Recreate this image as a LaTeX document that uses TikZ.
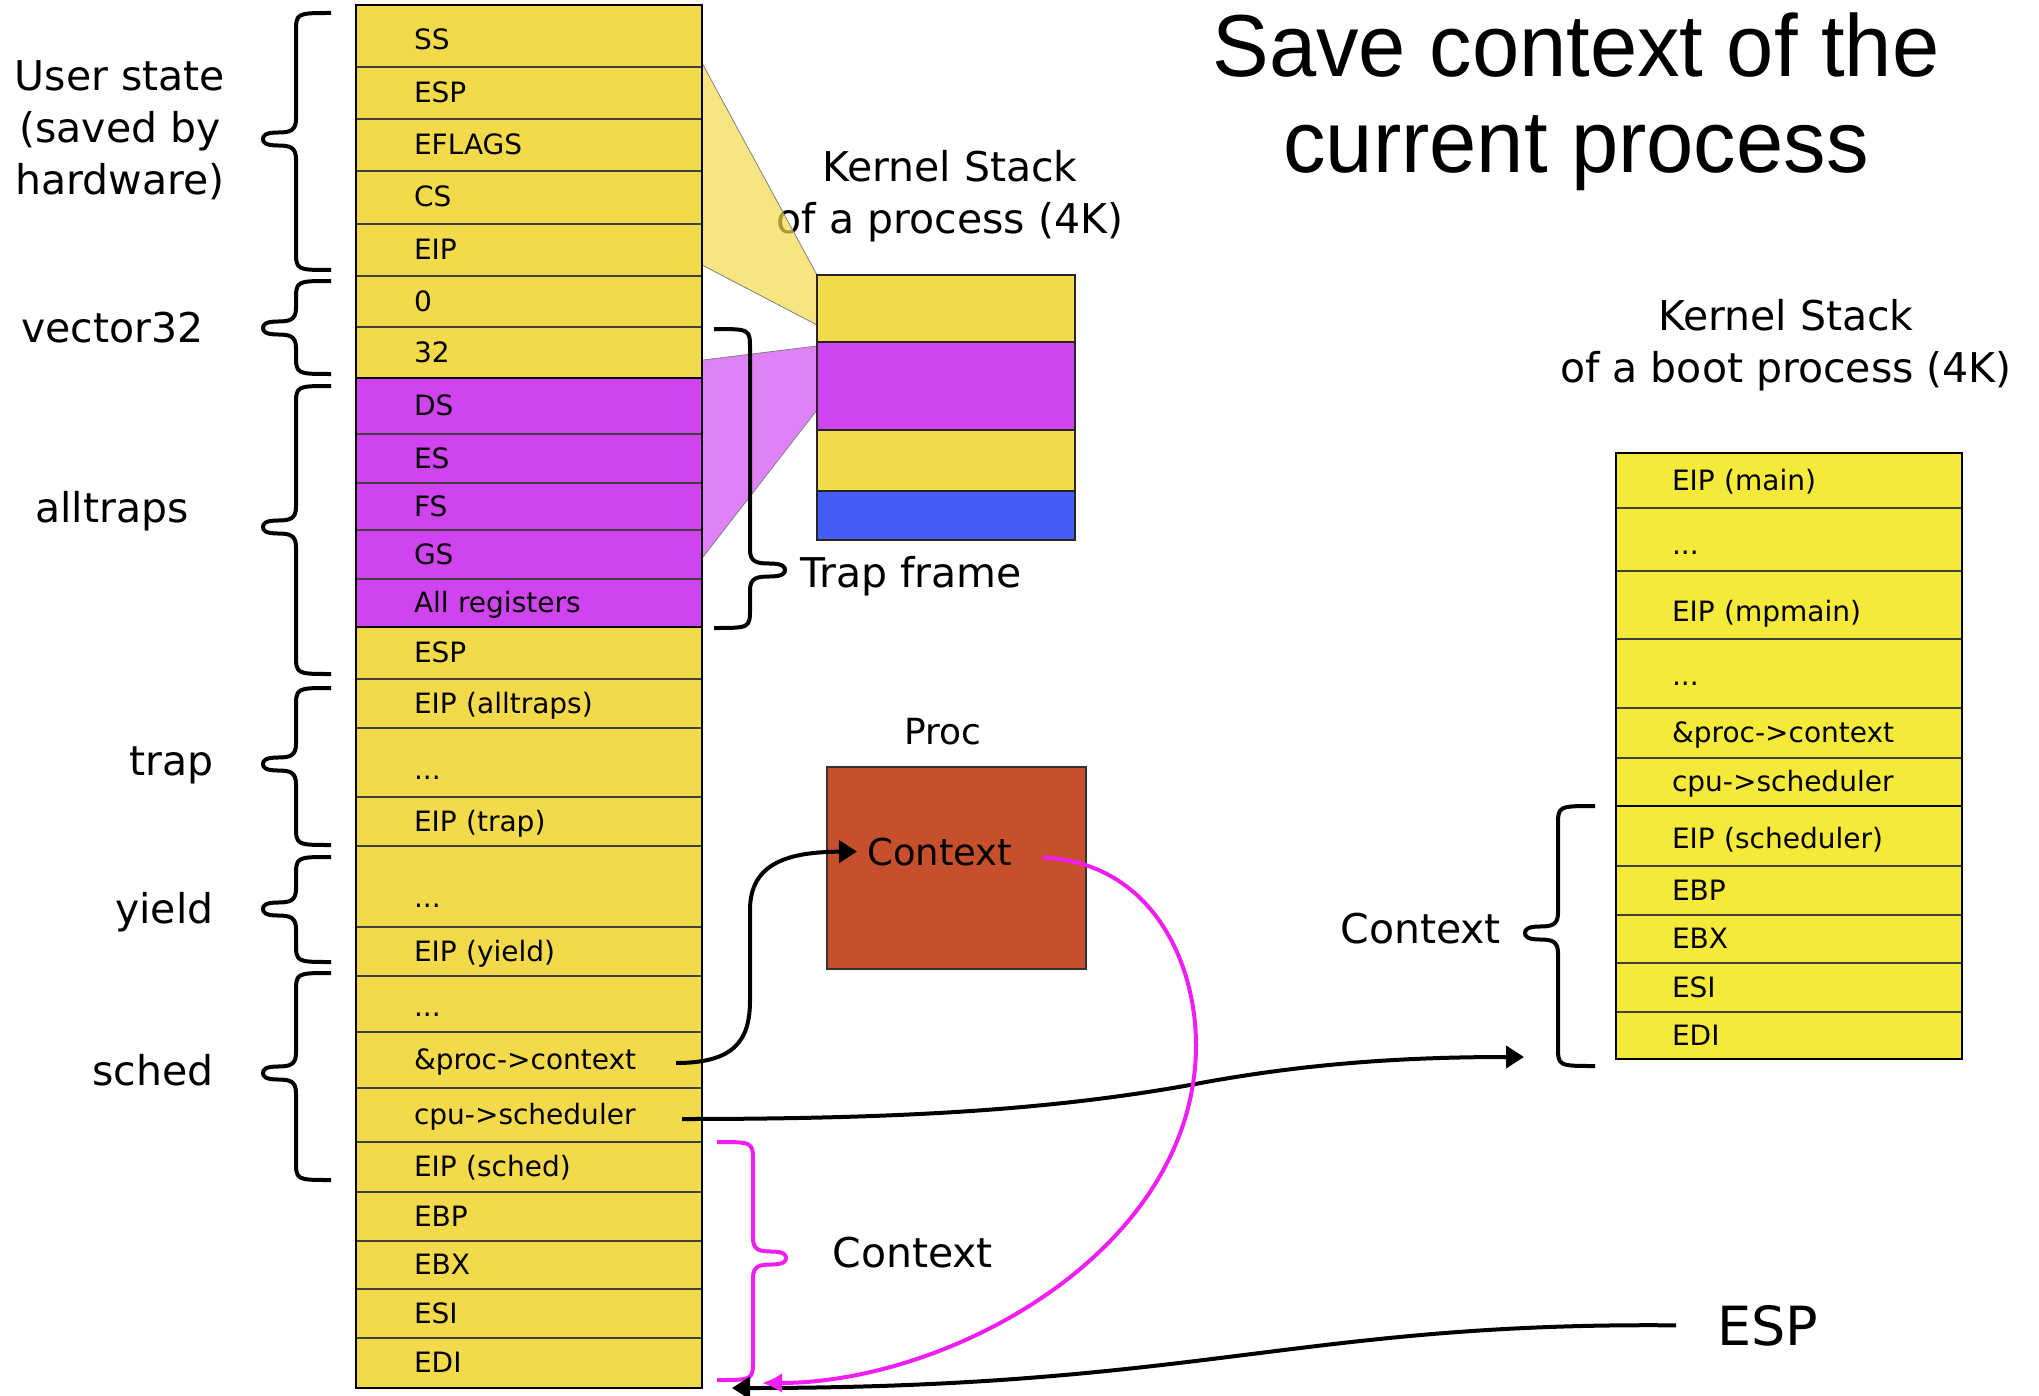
\documentclass[tikz,border=0pt]{standalone}
\usepackage{fontspec}
\setmainfont{DejaVu Sans}
\newfontfamily\titlefont[FakeStretch=0.965]{Liberation Sans}
\usetikzlibrary{positioning,arrows.meta}

\definecolor{stackyellow}{RGB}{242,218,74}
\definecolor{bootyellow}{RGB}{245,234,58}
\definecolor{trapmagenta}{RGB}{208,68,240}
\definecolor{kblue}{RGB}{68,94,245}
\definecolor{procred}{RGB}{198,80,44}
\definecolor{ctxpink}{RGB}{240,30,240}

\tikzset{
  cell/.style={rectangle, draw=black!75, line width=0.6pt, inner xsep=29pt, inner ysep=0pt,
    outer sep=0pt, text width=115pt, align=left, minimum height=#1,
    font=\fontsize{14}{17}\selectfont, text height=13pt, text depth=3.5pt},
  cell/.default=25pt,
  lcell/.style={cell=#1, fill=stackyellow},
  mcell/.style={cell=#1, fill=trapmagenta},
  rcell/.style={cell=#1, fill=bootyellow, inner xsep=28pt, text width=117pt},
  dotcell/.style={text height=#1},
  dotcell/.default=17pt,
  kcell/.style={rectangle, draw=black!85, line width=1.3pt, minimum width=129pt,
    minimum height=#1, inner sep=0pt, outer sep=0pt},
  biglabel/.style={font=\fontsize{20.5}{26}\selectfont, inner sep=0pt},
  brace line/.style={line width=2pt, line join=round},
  blackarrow/.style={line width=2pt, -{Triangle[length=9pt,width=11pt]}},
  pinkarrow/.style={line width=2pt, ctxpink, -{Latex[length=10pt,width=10pt]}}
}

% curly brace: end x, middle x, tip x, top y, tip y, bottom y
\newcommand{\stackbrace}[7][black]{%
\draw[brace line, #1] (#2,#5) .. controls (#3,#5) .. (#3,#5+20) -- (#3,#6-20)
  .. controls (#3,#6-8) and ({#3+0.2*(#4-#3)},#6-6.5) .. ({#3+0.55*(#4-#3)},#6-6.5)
  .. controls ({#3+0.95*(#4-#3)},#6-6.5) and (#4,#6-3) .. (#4,#6)
  .. controls (#4,#6+3) and ({#3+0.95*(#4-#3)},#6+6.5) .. ({#3+0.55*(#4-#3)},#6+6.5)
  .. controls ({#3+0.2*(#4-#3)},#6+6.5) and (#3,#6+8) .. (#3,#6+20)
  -- (#3,#7-20) .. controls (#3,#7) .. (#2,#7);}

\begin{document}
\begin{tikzpicture}[x=0.5pt,y=-0.5pt]
\useasboundingbox (0,0) rectangle (2039,1396);

% labels
\node[font={\titlefont\fontsize{44}{48}\selectfont}, align=center, inner sep=0pt] (title) at (1576,102) {Save context of the\\current process};
\node[biglabel, align=center] (kslbl) at (950,196) {Kernel Stack\\of a process (4K)};
\node[biglabel, align=center] (bootlbl) at (1786,345) {Kernel Stack\\of a boot process (4K)};
\node[biglabel, align=center] (userlbl) at (120,130) {User state\\(saved by\\hardware)};
\node[biglabel, anchor=base west] (veclbl) at (21,343) {vector32};
\node[biglabel, anchor=base west] (altlbl) at (35,522) {alltraps};
\node[biglabel, anchor=base east] (traplbl) at (214,775) {trap};
\node[biglabel, anchor=base east] (yieldlbl) at (214,923) {yield};
\node[biglabel, anchor=base east] (schedlbl) at (214,1085) {sched};
\node[biglabel, anchor=base west] (tflbl) at (800,587) {Trap frame};
\node[biglabel, anchor=base west] (ctxlbl) at (832,1267) {Context};
\node[biglabel, anchor=base west] (bctxlbl) at (1340,943) {Context};
\node[font=\fontsize{18}{22}\selectfont, anchor=base, inner sep=0pt] (proclbl) at (943,744) {Proc};
\node[font=\fontsize{27}{32}\selectfont, anchor=base west, inner sep=0pt] (espl) at (1717,1345) {ESP};

% projections to the small stack
\fill[stackyellow, fill opacity=0.7] (702,63) -- (817,275) -- (817,325) -- (702,265) -- cycle;
\draw[gray, line width=0.4pt] (702,63) -- (817,275) (702,265) -- (817,325);
\fill[trapmagenta, fill opacity=0.67] (703,360) -- (817,346) -- (817,410) -- (703,557) -- cycle;
\draw[gray, line width=0.4pt] (703,360) -- (817,346) (703,557) -- (817,410);

% kernel stack of the process
\node[lcell=31pt, dotcell=17pt, anchor=north west] (lss) at (356,5) {SS};
\node[lcell=26pt, below=0pt of lss] (lesp) {ESP};
\node[lcell=26pt, below=0pt of lesp] (lefl) {EFLAGS};
\node[lcell=26.5pt, below=0pt of lefl] (lcs) {CS};
\node[lcell=26pt, below=0pt of lcs] (leip) {EIP};
\node[lcell=25.5pt, below=0pt of leip] (lzero) {0};
\node[lcell=25.5pt, below=0pt of lzero] (lvec) {32};
\node[mcell=28pt, below=0pt of lvec] (lds) {DS};
\node[mcell=24.5pt, below=0pt of lds] (les) {ES};
\node[mcell=23.5pt, below=0pt of les] (lfs) {FS};
\node[mcell=24.5pt, below=0pt of lfs] (lgs) {GS};
\node[mcell=24pt, below=0pt of lgs] (lall) {All registers};
\node[lcell=26pt, below=0pt of lall] (lesp2) {ESP};
\node[lcell=24.5pt, below=0pt of lesp2] (leipat) {EIP (alltraps)};
\node[lcell=34.5pt, dotcell=20pt, below=0pt of leipat] (ldots1) {...};
\node[lcell=24.5pt, below=0pt of ldots1] (leiptr) {EIP (trap)};
\node[lcell=40.5pt, dotcell=24pt, below=0pt of leiptr] (ldots2) {...};
\node[lcell=24.5pt, below=0pt of ldots2] (leipy) {EIP (yield)};
\node[lcell=28pt, dotcell=16pt, below=0pt of leipy] (ldots3) {...};
\node[lcell=28pt, below=0pt of ldots3] (lpctx) {\&proc->context};
\node[lcell=27pt, below=0pt of lpctx] (lcpu) {cpu->scheduler};
\node[lcell=25pt, below=0pt of lcpu] (leips) {EIP (sched)};
\node[lcell=24.5pt, below=0pt of leips] (lebp) {EBP};
\node[lcell=24pt, below=0pt of lebp] (lebx) {EBX};
\node[lcell=24.5pt, below=0pt of lebx] (lesi) {ESI};
\node[lcell=25pt, below=0pt of lesi] (ledi) {EDI};
\draw[line width=1pt] (lss.north west) rectangle (ledi.south east);
\draw[line width=1.3pt] (lds.north west) rectangle (lall.south east);

% small stack
\node[kcell=33.5pt, fill=stackyellow, anchor=north west] (ks1) at (817,275) {};
\node[kcell=44pt, fill=trapmagenta, below=0pt of ks1] (ks2) {};
\node[kcell=30.5pt, fill=stackyellow, below=0pt of ks2] (ks3) {};
\node[kcell=24.5pt, fill=kblue, below=0pt of ks3] (ks4) {};

% kernel stack of the boot process
\node[rcell=27.5pt, anchor=north west] (rmain) at (1616,453) {EIP (main)};
\node[rcell=31.5pt, dotcell=18pt, below=0pt of rmain] (rdots1) {...};
\node[rcell=34pt, dotcell=20pt, below=0pt of rdots1] (rmp) {EIP (mpmain)};
\node[rcell=34.5pt, dotcell=15pt, below=0pt of rmp] (rdots2) {...};
\node[rcell=25pt, below=0pt of rdots2] (rpctx) {\&proc->context};
\node[rcell=24pt, below=0pt of rpctx] (rcpu) {cpu->scheduler};
\node[rcell=30pt, dotcell=16pt, below=0pt of rcpu] (rsch) {EIP (scheduler)};
\node[rcell=24.5pt, below=0pt of rsch] (rebp) {EBP};
\node[rcell=24pt, below=0pt of rebp] (rebx) {EBX};
\node[rcell=24.5pt, below=0pt of rebx] (resi) {ESI};
\node[rcell=23.5pt, below=0pt of resi] (redi) {EDI};
\draw[line width=1pt] (rmain.north west) rectangle (redi.south east);
\draw[line width=1.2pt] (rcpu.south west) -- (rcpu.south east);

% proc
\node[draw=black!80, line width=0.8pt, fill=procred, minimum width=129.5pt, minimum height=101pt,
  inner sep=0pt, outer sep=0pt, anchor=north west] (proc) at (827,767) {};
\node[font=\fontsize{18.5}{22}\selectfont, anchor=base west, inner xsep=5pt, inner ysep=0pt] (pctx) at (857,865) {Context};

% braces
\stackbrace{331}{296}{263}{13}{139}{270}
\stackbrace{331}{296}{263}{281}{328}{374}
\stackbrace{331}{296}{263}{386}{527}{674}
\stackbrace{331}{296}{263}{688}{764}{845}
\stackbrace{331}{296}{263}{857}{909}{962}
\stackbrace{331}{296}{263}{973}{1073}{1180}
\stackbrace{714}{750}{785}{329}{570}{628}
\stackbrace[ctxpink]{717}{753}{786}{1142}{1258}{1380}
\stackbrace{1595}{1558}{1525}{806}{933}{1066}

% arrows
\coordinate (bootsp) at ([xshift=-46pt,yshift=1pt]redi.south west);
\coordinate (lsp) at ([xshift=15pt]ledi.south east);
\coordinate (ctxsp) at ([xshift=30pt,yshift=2.5pt]ledi.south east);
\draw[blackarrow] ([xshift=-13pt,yshift=-1.5pt]lpctx.east) .. controls (735,1063) and (750,1040) .. (750,1000)
  -- (750,910) .. controls (750,862) and (790,852) .. (pctx.west);
\draw[blackarrow] ([xshift=-10pt,yshift=-2pt]lcpu.east) .. controls (900,1119) and (1050,1110) .. (1190,1085)
  .. controls (1300,1064) and (1400,1057) .. (bootsp);
\draw[blackarrow] ([xshift=-20.5pt]espl.west) .. controls (1300,1322) and (1200,1388) .. (lsp);
\draw[pinkarrow] ([xshift=10pt,yshift=-3pt]pctx.east) .. controls (1150,862) and (1196,960) .. (1196,1045)
  .. controls (1196,1250) and (950,1383) .. (ctxsp);
\end{tikzpicture}
\end{document}
